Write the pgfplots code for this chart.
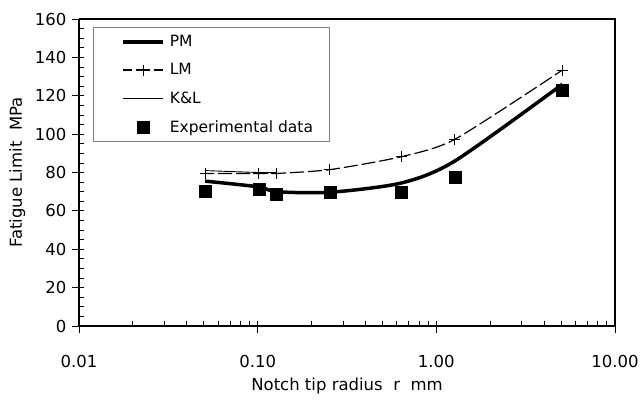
\documentclass[border=0pt]{standalone}
\usepackage{pgfplots}
\pgfplotsset{compat=1.18}
\usepackage{fontspec}
\setmainfont{DejaVu Sans}
\pgfplotsset{sqlegend/.style={legend image code/.code={\path (-14pt,0pt); \draw[##1] plot coordinates {(20pt,0pt)}; \path (43pt,0pt);}}}
\begin{document}
\begin{tikzpicture}[x=1pt,y=1pt]
\useasboundingbox (0,0) rectangle (644,400);
\begin{axis}[
 at={(79pt,74pt)}, anchor=south west,
 scale only axis, width=536pt, height=307pt,
 xmode=log, xmin=0.01, xmax=10, ymin=0, ymax=160,
 xtick={0.01,0.1,1,10}, xticklabels={0.01,0.10,1.00,10.00},
 ytick={0,20,...,160},
 minor y tick num=3,
 axis line style={line width=1.4pt},
 axis x line*=bottom, axis y line*=left,
 tick style={black, line width=0.8pt},
 tick align=inside,
 major tick length=5pt, minor tick length=5pt,
 extra x ticks={0.01,0.1,1,10}, extra x tick labels={},
 extra x tick style={tick align=outside, major tick length=7pt},
 extra y ticks={0,20,...,160}, extra y tick labels={},
 extra y tick style={tick align=outside, major tick length=7pt},
 /pgf/number format/assume math mode=true,
 tick label style={font=\fontsize{16.5}{19}\selectfont},
 xticklabel style={yshift=-26pt},
 yticklabel style={xshift=-9pt},
 xlabel={Notch tip radius\ \ r\ \ mm},
 ylabel={Fatigue Limit\ \ MPa},
 every axis x label/.style={at={(axis description cs:0.5,0)}, anchor=center, yshift=-60pt, font=\fontsize{16.5}{19}\selectfont},
 every axis y label/.style={at={(axis description cs:-0.115,0.5)}, anchor=center, rotate=90, font=\fontsize{16.5}{19}\selectfont},
 legend style={at={(axis description cs:0.026,0.974)}, anchor=north west,
   draw=gray, line width=0.8pt, fill=white, font=\fontsize{15.5}{18}\selectfont,
   inner xsep=14pt, inner ysep=6pt, row sep=11.5pt, cells={anchor=west}},
 legend cell align=left,
 legend image code/.code={\path (-14pt,0pt) (43pt,0pt); \draw[mark repeat=2,mark phase=2,#1] plot coordinates {(0pt,0pt) (20pt,0pt) (40pt,0pt)};},
 clip=false,
]
% top and right border
\draw[line width=1.4pt] (rel axis cs:0,1) -- (rel axis cs:1,1) -- (rel axis cs:1,0);
\addplot[line width=3.5pt, smooth, tension=0.45, no marks] coordinates {
 (0.0508,75.5) (0.1016,72.5) (0.127,70) (0.254,69.7) (0.635,74.5) (1.27,86) (5.08,126)};
\addlegendentry{PM}
\addplot[line width=1.2pt, smooth, tension=0.4, dash pattern=on 14pt off 4pt, dash phase=5pt, mark=+, mark size=5.5pt,
  mark options={solid, line width=1pt}] coordinates {
 (0.0508,79.5) (0.1016,79.5) (0.127,79.5) (0.254,81.5) (0.635,88.2) (1.27,97.3) (5.08,133.4)};
\addlegendentry{LM}
\addplot[line width=0.9pt, smooth, no marks] coordinates {
 (0.0508,81) (0.1016,80) (0.127,80)};
\addlegendentry{K\&L}
\addplot[only marks, mark=square*, mark size=6pt, sqlegend] coordinates {
 (0.0508,70) (0.1016,71.4) (0.127,68.5) (0.254,69.7) (0.635,69.7) (1.27,77.8) (5.08,123)};
\addlegendentry{Experimental data}
\end{axis}
\end{tikzpicture}
\end{document}
